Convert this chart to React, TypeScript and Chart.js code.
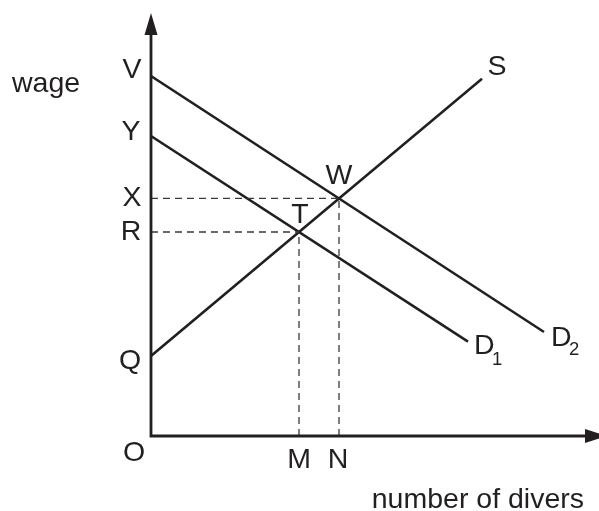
import React, { useEffect, useRef } from "react";
import { Chart, registerables } from "chart.js";

Chart.register(...registerables);

// Data (abstract units: quantity on x, wage on y)
const supplyX = [0, 82.75];
const supplyY = [20, 89.3];
const demand1X = [0, 79.25];
const demand1Y = [75, 23.6];
const demand2X = [0, 98.25];
const demand2Y = [90, 26];
const qtyM = 37;
const qtyN = 47;
const wageR = 51;
const wageX = 59.4;
const wageV = 90;
const wageY = 75;
const wageQ = 20;
const xMax = 112;
const yMax = 105.75;

const INK = "#231f20";
const FONT = "'Liberation Sans', Arial, Helvetica, sans-serif";

const pts = (xs: number[], ys: number[]) => xs.map((x, i) => ({ x, y: ys[i] }));

const annotPlugin = {
  id: "econAnnot",
  afterDatasetsDraw(chart: any) {
    const { ctx, scales } = chart;
    const xs = scales.x;
    const ys = scales.y;
    const px = (v: number) => xs.getPixelForValue(v);
    const py = (v: number) => ys.getPixelForValue(v);
    const x0 = px(0);
    const y0 = py(0);
    ctx.save();
    // axes
    ctx.strokeStyle = INK;
    ctx.fillStyle = INK;
    ctx.lineWidth = 2.8;
    ctx.beginPath();
    ctx.moveTo(x0, y0 + 1.4);
    ctx.lineTo(x0, ys.top + 20);
    ctx.moveTo(x0 - 1.4, y0);
    ctx.lineTo(xs.right - 12, y0);
    ctx.stroke();
    // y arrow
    ctx.beginPath();
    ctx.moveTo(x0, ys.top);
    ctx.lineTo(x0 - 6.5, ys.top + 22);
    ctx.lineTo(x0 + 6.5, ys.top + 22);
    ctx.closePath();
    ctx.fill();
    // x arrow
    ctx.beginPath();
    ctx.moveTo(xs.right + 8, y0);
    ctx.lineTo(xs.right - 14, y0 - 7);
    ctx.lineTo(xs.right - 14, y0 + 7);
    ctx.closePath();
    ctx.fill();

    // labels
    ctx.font = `28.5px ${FONT}`;
    ctx.textBaseline = "middle";
    ctx.textAlign = "center";
    const lab = (t: string, x: number, y: number) => ctx.fillText(t, x, y);
    lab("V", x0 - 19, py(wageV) - 6);
    lab("Y", x0 - 20, py(wageY) - 4);
    lab("X", x0 - 19, py(wageX));
    lab("R", x0 - 20, py(wageR));
    lab("Q", x0 - 21, py(wageQ) + 5);
    lab("O", x0 - 17, y0 + 17);
    lab("M", px(qtyM), y0 + 24);
    lab("N", px(qtyN) - 1, y0 + 24);
    lab("T", px(qtyM) + 1, py(wageR) - 17);
    lab("W", px(qtyN), py(wageX) - 22);
    lab("S", px(supplyX[1]) + 15, py(supplyY[1]) - 12);
    // D1, D2
    ctx.textAlign = "left";
    ctx.fillText("D", px(demand1X[1]) + 6, py(demand1Y[1]) + 5);
    ctx.fillText("D", px(demand2X[1]) + 7, py(demand2Y[1]) + 6);
    ctx.font = `18.5px ${FONT}`;
    ctx.fillText("1", px(demand1X[1]) + 24, py(demand1Y[1]) + 18);
    ctx.fillText("2", px(demand2X[1]) + 25, py(demand2Y[1]) + 18);
    // axis titles
    ctx.font = `28.5px ${FONT}`;
    ctx.textAlign = "left";
    ctx.textBaseline = "alphabetic";
    ctx.fillText("wage", 12, 92);
    ctx.textAlign = "right";
    ctx.fillText("number of divers", 584, 508);
    ctx.restore();
  },
};

export default function App() {
  const ref = useRef<HTMLCanvasElement | null>(null);
  useEffect(() => {
    if (!ref.current) return;
    const solid = (data: any) => ({
      data,
      borderColor: INK,
      borderWidth: 2.5,
      pointRadius: 0,
      fill: false,
      tension: 0,
    });
    const dashed = (data: any) => ({
      data,
      borderColor: "#3a3a3a",
      borderWidth: 1.3,
      borderDash: [7, 5],
      pointRadius: 0,
      fill: false,
      tension: 0,
    });
    const chart = new Chart(ref.current, {
      type: "line",
      data: {
        datasets: [
          dashed([{ x: 0, y: wageX }, { x: qtyN, y: wageX }]),
          dashed([{ x: qtyN, y: 0 }, { x: qtyN, y: wageX }]),
          dashed([{ x: 0, y: wageR }, { x: qtyM, y: wageR }]),
          dashed([{ x: qtyM, y: 0 }, { x: qtyM, y: wageR }]),
          solid(pts(supplyX, supplyY)),
          solid(pts(demand1X, demand1Y)),
          solid(pts(demand2X, demand2Y)),
        ] as any,
      },
      options: {
        animation: false,
        responsive: false,
        devicePixelRatio: 1,
        layout: { padding: { left: 151, right: 0, top: 13, bottom: 75 } },
        plugins: { legend: { display: false }, tooltip: { enabled: false } },
        scales: {
          x: { type: "linear", min: 0, max: xMax, display: false },
          y: { type: "linear", min: 0, max: yMax, display: false },
        },
      },
      plugins: [annotPlugin],
    });
    return () => chart.destroy();
  }, []);
  return (
    <div style={{ position: "absolute", left: 0, top: 0, width: 599, height: 511, background: "#fff" }}>
      <canvas ref={ref} width={599} height={511} style={{ display: "block" }} />
    </div>
  );
}
